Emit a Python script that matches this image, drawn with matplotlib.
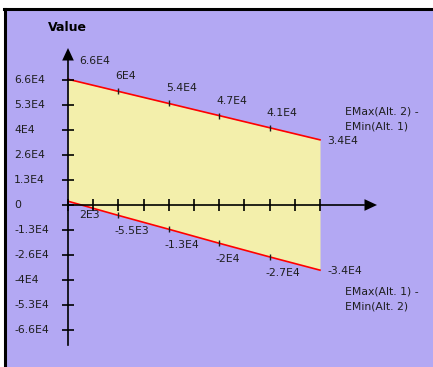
import matplotlib.pyplot as plt
from matplotlib.lines import Line2D
from matplotlib.patches import Rectangle

W, H = 433, 367

# data
x_pos = [0, 2, 4, 6, 8, 10]
upper = [66400, 60000, 53600, 47200, 40800, 34400]
upper_labels = ['6.6E4', '6E4', '5.4E4', '4.7E4', '4.1E4', '3.4E4']
lower = [2000, -5500, -12800, -20200, -27400, -34400]
lower_labels = ['2E3', '-5.5E3', '-1.3E4', '-2E4', '-2.7E4', '-3.4E4']

y_ticks = [66000, 52800, 39600, 26400, 13200, 0,
           -13200, -26400, -39600, -52800, -66000]
y_tick_labels = ['6.6E4', '5.3E4', '4E4', '2.6E4', '1.3E4', '0',
                 '-1.3E4', '-2.6E4', '-4E4', '-5.3E4', '-6.6E4']
x_ticks = list(range(0, 11))

upper_name = 'EMax(Alt. 2) -\nEMin(Alt. 1)'
lower_name = 'EMax(Alt. 1) -\nEMin(Alt. 2)'

BG = '#b3a8f3'
FILL = '#f3efab'
FONT = 'DejaVu Sans'
FS = 7.8
TXT = '#1e1e1e'

# pixel mapping: origin at (68, 205), 25.2 px per x unit, 1.894 px per 1000
X0, Y0, SX, SY = 68, 205, 25.2, 1.894e-3
fig = plt.figure(figsize=(W / 100, H / 100), dpi=100)
fig.patch.set_facecolor('white')
bg = Rectangle((5 / W, 0), 1, 1 - 9 / H, transform=fig.transFigure,
               facecolor=BG, edgecolor='none', zorder=-5)
fig.patches.append(bg)
fig.lines.append(Line2D([4.5 / W, 4.5 / W], [0, 1 - 9 / H], color='black', lw=2.2,
                        transform=fig.transFigure, zorder=10))
fig.lines.append(Line2D([3.5 / W, 1], [1 - 9 / H, 1 - 9 / H], color='black', lw=2.2,
                        transform=fig.transFigure, zorder=10))

ax = fig.add_axes([0, 0, 1, 1])
ax.set_zorder(1)
ax.set_xlim(-X0 / SX, (W - X0) / SX)
ax.set_ylim(-(H - Y0) / SY, Y0 / SY)
ax.axis('off')

ax.fill_between(x_pos, lower, upper, color=FILL, lw=0, zorder=1)
ax.plot(x_pos, upper, color='red', lw=1.2, zorder=3)
ax.plot(x_pos, lower, color='red', lw=1.2, zorder=3)

# axes with arrows
y_top = (Y0 - 60) / SY
y_bot = (Y0 - 345) / SY
x_end = (364 - X0) / SX
ax.plot([0, 0], [y_bot, y_top], color='black', lw=1.2, zorder=4)
ax.plot([0, x_end], [0, 0], color='black', lw=1.2, zorder=4)
head = dict(arrowstyle='-|>,head_length=0.9,head_width=0.42', color='black',
            lw=0, mutation_scale=10, shrinkA=0, shrinkB=0)
ax.annotate('', xy=(0, (Y0 - 48) / SY), xytext=(0, y_top), arrowprops=head, zorder=5)
ax.annotate('', xy=((377 - X0) / SX, 0), xytext=(x_end, 0), arrowprops=head, zorder=5)

ax.plot([0] * len(y_ticks), y_ticks, ls='none', marker='_', ms=8,
        mew=1.2, color='black', zorder=4)
ax.plot(x_ticks, [0] * len(x_ticks), ls='none', marker='|', ms=8,
        mew=1.2, color='black', zorder=4)
for v, lab in zip(y_ticks, y_tick_labels):
    ax.annotate(lab, (0, v), xytext=(-54, 0), textcoords='offset pixels',
                ha='left', va='center', fontsize=FS, family=FONT, color=TXT)

# point marks and labels
ax.plot(x_pos[1:-1], upper[1:-1], ls='none', marker='|', ms=4.5, mew=1,
        color=TXT, zorder=5)
ax.plot(x_pos[1:-1], lower[1:-1], ls='none', marker='|', ms=4.5, mew=1,
        color=TXT, zorder=5)
for i, (x, v, lab) in enumerate(zip(x_pos, upper, upper_labels)):
    if i == 0:
        off = (11, 18)
    elif i == len(x_pos) - 1:
        off = (7, -1)
    else:
        off = (-3, 15)
    ax.annotate(lab, (x, v), xytext=off, textcoords='offset pixels',
                ha='left', va='center', fontsize=FS, family=FONT, color=TXT)
for i, (x, v, lab) in enumerate(zip(x_pos, lower, lower_labels)):
    if i == 0:
        off = (11, -14)
    elif i == len(x_pos) - 1:
        off = (7, -1)
    else:
        off = (-4, -16)
    ax.annotate(lab, (x, v), xytext=off, textcoords='offset pixels',
                ha='left', va='center', fontsize=FS, family=FONT, color=TXT)

ax.text((345 - X0) / SX, (Y0 - 119) / SY, upper_name, ha='left', va='center',
        fontsize=FS, family=FONT, color=TXT, linespacing=1.7)
ax.text((345 - X0) / SX, (Y0 - 299) / SY, lower_name, ha='left', va='center',
        fontsize=FS, family=FONT, color=TXT, linespacing=1.7)

ax.text((48 - X0) / SX, (Y0 - 28) / SY, 'Value', ha='left', va='center',
        fontsize=9, family=FONT, fontweight='bold', color='black')

fig.savefig('out.png', dpi=100)
